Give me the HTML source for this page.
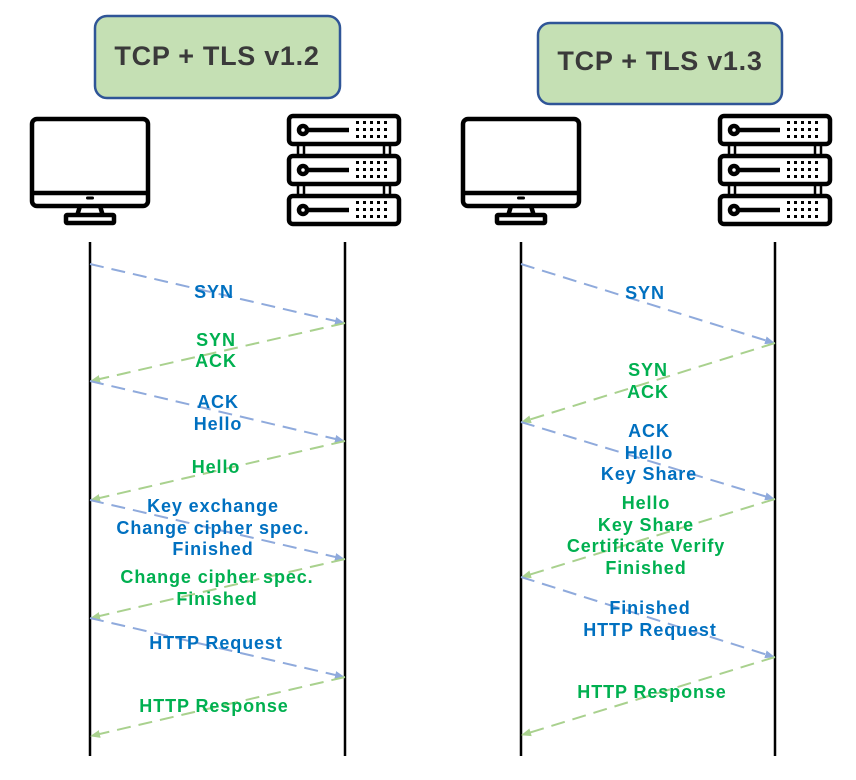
<!DOCTYPE html>
<html><head><meta charset="utf-8"><style>
body{margin:0;background:#fff}
svg text{font-family:"Liberation Sans",sans-serif;font-weight:bold;text-anchor:middle}
.b{fill:#0070c0;font-size:18px;letter-spacing:0.9px}.g{fill:#00b050;font-size:18px;letter-spacing:0.9px}
.lb{stroke:#8faadc;stroke-width:2;stroke-dasharray:14,8;fill:none}
.lg{stroke:#a9d18e;stroke-width:2;stroke-dasharray:14,8;fill:none}
</style></head><body>
<svg width="856" height="775" viewBox="0 0 856 775" xmlns="http://www.w3.org/2000/svg">
<defs>
<marker id="ab" markerWidth="10" markerHeight="10" refX="9" refY="5" orient="auto" markerUnits="userSpaceOnUse"><path d="M0,1 L10,5 L0,9Z" fill="#8faadc"/></marker>
<marker id="ag" markerWidth="10" markerHeight="10" refX="9" refY="5" orient="auto" markerUnits="userSpaceOnUse"><path d="M0,1 L10,5 L0,9Z" fill="#a9d18e"/></marker>
<g id="mon" fill="none" stroke="#000" stroke-width="4.5">
<rect x="2" y="2" width="116" height="87" rx="5"/>
<line x1="2" y1="76" x2="118" y2="76"/>
<path d="M50,89 L47,99 M70,89 L73,99"/>
<rect x="36" y="98" width="48" height="8" rx="1"/>
<rect x="56" y="79.5" width="8" height="3" rx="1.5" fill="#000" stroke="none"/>
</g>
<g id="srvu" fill="none" stroke="#000" stroke-width="4.5">
<rect x="2" y="2" width="110" height="28" rx="4"/>
<circle cx="16" cy="16" r="4"/>
<line x1="20" y1="16" x2="62" y2="16"/>
<g fill="#000" stroke="none">
<rect x="69" y="7" width="3" height="3"/><rect x="76" y="7" width="3" height="3"/><rect x="83" y="7" width="3" height="3"/><rect x="90" y="7" width="3" height="3"/><rect x="97" y="7" width="3" height="3"/>
<rect x="69" y="14" width="3" height="3"/><rect x="76" y="14" width="3" height="3"/><rect x="83" y="14" width="3" height="3"/><rect x="90" y="14" width="3" height="3"/><rect x="97" y="14" width="3" height="3"/>
<rect x="69" y="21" width="3" height="3"/><rect x="76" y="21" width="3" height="3"/><rect x="83" y="21" width="3" height="3"/><rect x="90" y="21" width="3" height="3"/><rect x="97" y="21" width="3" height="3"/>
</g></g>
<g id="srv">
<use href="#srvu"/><use href="#srvu" y="40"/><use href="#srvu" y="80"/>
<g stroke="#000" stroke-width="2.5"><path d="M11,30 V42 M17,30 V42 M97,30 V42 M103,30 V42 M11,70 V82 M17,70 V82 M97,70 V82 M103,70 V82"/></g>
</g>
</defs>

<rect x="95" y="16" width="245" height="82" rx="12" fill="#c5e0b4" stroke="#2f5597" stroke-width="2.5"/>
<text x="217" y="65" style="font-size:27px;fill:#3a3a3a;letter-spacing:0.7px">TCP + TLS v1.2</text>
<rect x="538" y="23" width="244" height="81" rx="12" fill="#c5e0b4" stroke="#2f5597" stroke-width="2.5"/>
<text x="660" y="70" style="font-size:27px;fill:#3a3a3a;letter-spacing:0.7px">TCP + TLS v1.3</text>

<use href="#mon" x="30" y="117"/>
<use href="#srv" x="287" y="114"/>
<use href="#mon" x="461" y="117"/>
<use href="#srv" x="718" y="114"/>

<g stroke="#000" stroke-width="2.5">
<line x1="90" y1="242" x2="90" y2="756"/><line x1="345" y1="242" x2="345" y2="756"/>
<line x1="521" y1="242" x2="521" y2="756"/><line x1="775" y1="242" x2="775" y2="756"/>
</g>

<line class="lb" x1="90" y1="264" x2="344" y2="323" marker-end="url(#ab)"/>
<line class="lg" x1="345" y1="323" x2="91" y2="381" marker-end="url(#ag)"/>
<line class="lb" x1="90" y1="381" x2="344" y2="441" marker-end="url(#ab)"/>
<line class="lg" x1="345" y1="441" x2="91" y2="500" marker-end="url(#ag)"/>
<line class="lb" x1="90" y1="500" x2="344" y2="559" marker-end="url(#ab)"/>
<line class="lg" x1="345" y1="559" x2="91" y2="618" marker-end="url(#ag)"/>
<line class="lb" x1="90" y1="618" x2="344" y2="677" marker-end="url(#ab)"/>
<line class="lg" x1="345" y1="677" x2="91" y2="736" marker-end="url(#ag)"/>

<text class="b" x="214" y="298">SYN</text>
<text class="g" x="216" y="346">SYN</text><text class="g" x="216" y="367">ACK</text>
<text class="b" x="218" y="408">ACK</text><text class="b" x="218" y="430">Hello</text>
<text class="g" x="216" y="473">Hello</text>
<text class="b" x="213" y="512">Key exchange</text><text class="b" x="213" y="534">Change cipher spec.</text><text class="b" x="213" y="555">Finished</text>
<text class="g" x="217" y="583">Change cipher spec.</text><text class="g" x="217" y="605">Finished</text>
<text class="b" x="216" y="649">HTTP Request</text>
<text class="g" x="214" y="712">HTTP Response</text>

<line class="lb" x1="521" y1="264" x2="774" y2="343" marker-end="url(#ab)"/>
<line class="lg" x1="775" y1="343" x2="522" y2="422" marker-end="url(#ag)"/>
<line class="lb" x1="521" y1="422" x2="774" y2="499" marker-end="url(#ab)"/>
<line class="lg" x1="775" y1="499" x2="522" y2="577" marker-end="url(#ag)"/>
<line class="lb" x1="521" y1="577" x2="774" y2="657" marker-end="url(#ab)"/>
<line class="lg" x1="775" y1="657" x2="522" y2="735" marker-end="url(#ag)"/>

<text class="b" x="645" y="299">SYN</text>
<text class="g" x="648" y="376">SYN</text><text class="g" x="648" y="398">ACK</text>
<text class="b" x="649" y="437">ACK</text><text class="b" x="649" y="459">Hello</text><text class="b" x="649" y="480">Key Share</text>
<text class="g" x="646" y="509">Hello</text><text class="g" x="646" y="531">Key Share</text><text class="g" x="646" y="552">Certificate Verify</text><text class="g" x="646" y="574">Finished</text>
<text class="b" x="650" y="614">Finished</text><text class="b" x="650" y="636">HTTP Request</text>
<text class="g" x="652" y="698">HTTP Response</text>
</svg>
</body></html>
